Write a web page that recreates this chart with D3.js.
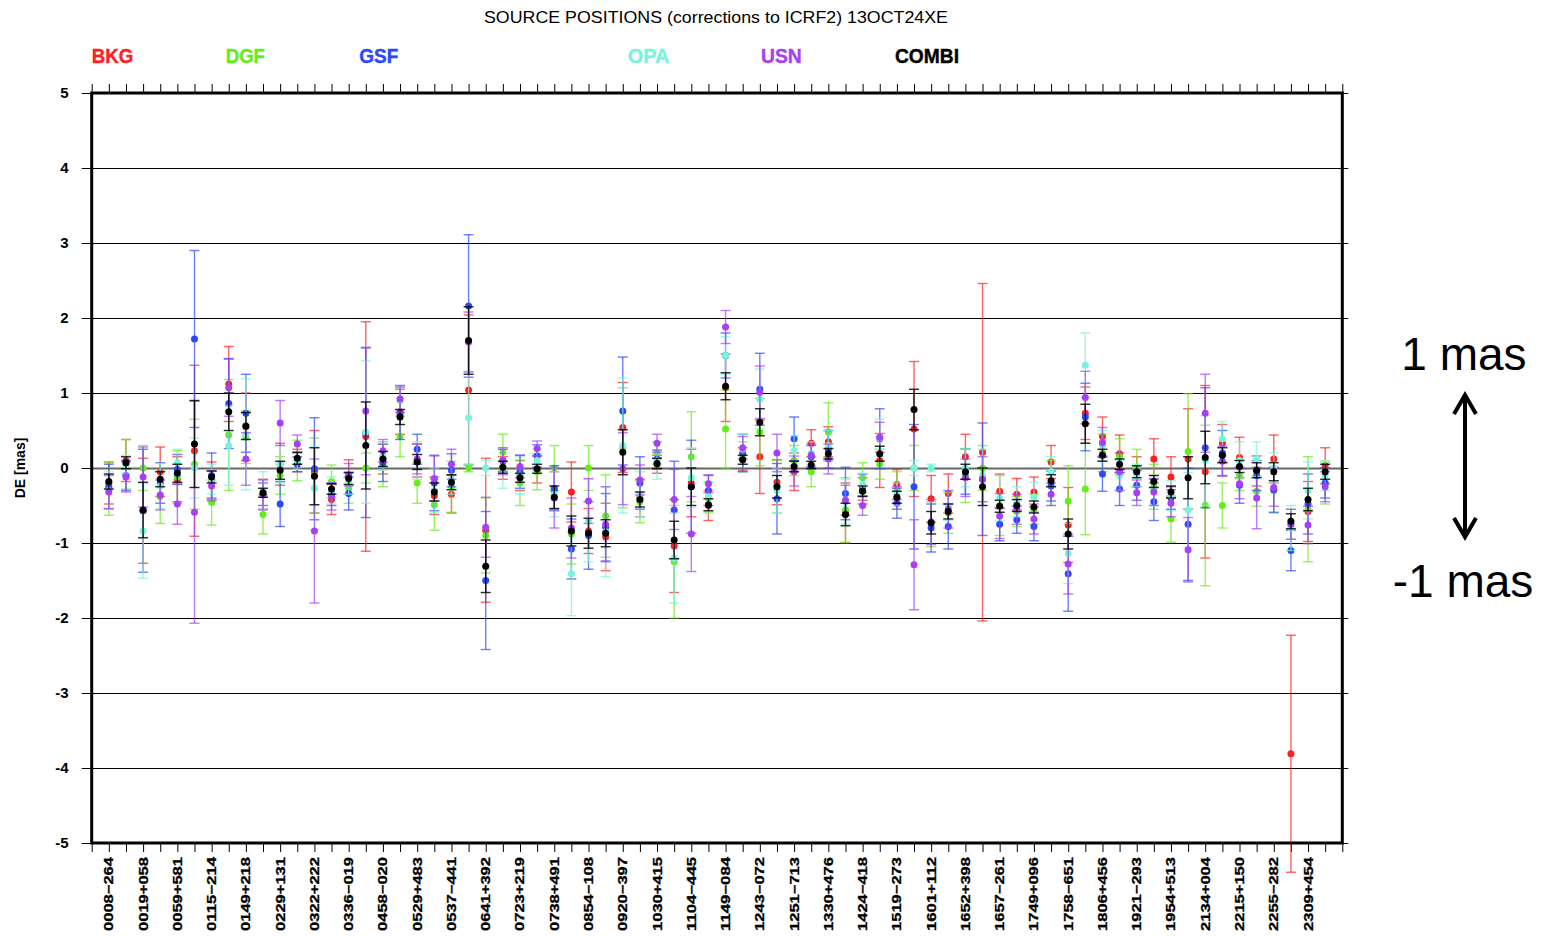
<!DOCTYPE html>
<html>
<head>
<meta charset="utf-8">
<script src="https://cdn.jsdelivr.net/npm/d3@7"></script>
<style>
  body { margin: 0; background: #fff; }
  svg { display: block; font-family: "Liberation Sans", Arial, sans-serif; }
</style>
</head>
<body>
<svg></svg>
<script>
// source names shown on the x axis (every other source is labelled)
const labels = ['0008−264', '0019+058', '0059+581', '0115−214', '0149+218', '0229+131', '0322+222', '0336−019',
  '0458−020', '0529+483', '0537−441', '0641+392', '0723+219', '0738+491', '0854−108', '0920−397', '1030+415',
  '1104−445', '1149−084', '1243−072', '1251−713', '1330+476', '1424−418', '1519−273', '1601+112', '1652+398',
  '1657−261', '1749+096', '1758−651', '1806+456', '1921−293', '1954+513', '2134+004', '2215+150', '2255−282', '2309+454'];

const centers = ['BKG', 'DGF', 'GSF', 'OPA', 'USN', 'COMBI'];
const colors = ['#ff1f1f', '#66ec1c', '#2b48ff', '#78f4dc', '#a640f2', '#000000'];

// DE corrections [mas] for the 72 sources, one array per analysis centre
const bkgVal = [-0.2, 0.1, -0.57, -0.05, -0.15, 0.23, -0.17, 1.12, 0.55, -0.35, 0.05, 0.1, -0.05, -0.42, -0.12, 0.42, 0.12, 0.75,
  0.1, -0.37, -0.35, 1.04, -0.83, 0.0, -0.1, -0.02, -0.3, -0.32, -0.84, -0.92, 0.54, -0.4, 0.05, -1.04, -0.2, -0.5,
  1.07, 0.12, 0.15, -0.19, -0.05, 0.33, 0.35, -0.6, -0.28, 0.1, -0.22, 0.52, -0.41, -0.34, 0.15, 0.21, -0.31, -0.35,
  -0.32, 0.08, -0.76, 0.73, 0.42, 0.19, -0.05, 0.12, -0.12, 0.12, -0.05, 0.33, 0.14, -0.04, 0.12, -3.81, -0.58, 0.03];
const bkgErr = [0.28, 0.28, 0.7, 0.33, 0.3, 1.14, 0.25, 0.5, 0.45, 0.2, 0.28, 0.15, 0.55, 0.2, 0.23, 1.53, 0.2, 0.3,
  0.22, 0.25, 0.25, 1.0, 0.96, 0.15, 0.2, 0.18, 0.25, 0.4, 0.3, 0.45, 0.6, 0.25, 0.12, 0.62, 0.45, 0.2,
  0.45, 0.15, 0.49, 0.3, 0.25, 0.18, 0.2, 0.4, 0.15, 0.36, 0.2, 0.9, 0.31, 0.26, 0.3, 2.25, 0.23, 0.21,
  0.2, 0.22, 0.5, 0.35, 0.26, 0.25, 0.2, 0.27, 0.27, 0.67, 1.15, 0.25, 0.27, 0.2, 0.32, 1.58, 0.4, 0.24];

const dgfVal = [-0.28, 0.05, 0.0, -0.38, -0.12, 0.05, -0.46, 0.44, 0.41, -0.62, -0.1, 0.1, -0.1, -0.18, -0.27, 0.0, 0.05, 0.42,
  -0.2, -0.49, -0.25, 0.0, -0.9, 0.21, -0.2, -0.05, 0.0, -0.88, 0.0, -0.64, 0.27, -0.45, 0.2, -1.25, 0.15, -0.4,
  0.52, 0.15, 0.48, -0.25, 0.1, -0.05, 0.48, -0.56, -0.13, 0.05, -0.3, 0.0, -0.75, -0.6, -0.1, 0.0, -0.5, -0.58,
  -0.55, -0.2, -0.44, -0.28, 0.2, 0.15, 0.0, -0.25, -0.68, 0.22, -0.5, -0.5, -0.1, -0.31, -0.3, -0.75, -0.55, -0.2];
const dgfErr = [0.35, 0.33, 0.3, 0.36, 0.35, 0.6, 0.3, 0.74, 0.35, 0.26, 0.25, 0.27, 0.5, 0.22, 0.2, 0.2, 0.3, 0.27,
  0.27, 0.34, 0.34, 0.05, 0.5, 0.24, 0.3, 0.24, 0.3, 0.4, 0.3, 0.55, 0.8, 0.28, 0.15, 0.75, 0.6, 0.2,
  0.52, 0.2, 0.45, 0.35, 0.2, 0.2, 0.39, 0.43, 0.2, 0.2, 0.25, 0.3, 0.3, 0.27, 0.36, 0.3, 0.4, 0.2,
  0.2, 0.3, 0.47, 0.61, 0.25, 0.24, 0.25, 0.3, 0.31, 0.77, 1.07, 0.3, 0.2, 0.2, 0.3, 0.2, 0.7, 0.28];

const gsfVal = [-0.25, -0.1, -0.57, -0.2, -0.02, 1.72, -0.1, 0.86, 0.73, -0.35, -0.48, 0.05, -0.01, -0.35, -0.34, 0.47, 0.07, 0.73,
  0.25, -0.2, -0.03, 2.16, -1.5, 0.1, -0.05, 0.16, -0.27, -1.08, -0.9, -0.79, 0.76, -0.2, 0.12, -0.56, -0.25, -0.3,
  1.5, 0.2, 1.05, -0.41, 0.39, 0.15, 0.25, -0.34, -0.28, 0.39, -0.47, -0.25, -0.8, -0.78, -0.05, -0.15, -0.75, -0.69,
  -0.78, -0.24, -1.41, 0.68, -0.08, -0.28, -0.23, -0.45, -0.4, -0.75, 0.27, 0.2, -0.23, -0.1, -0.29, -1.1, -0.48, -0.2];
const gsfErr = [0.3, 0.2, 0.82, 0.27, 0.2, 1.18, 0.3, 0.6, 0.52, 0.15, 0.3, 0.1, 0.68, 0.15, 0.22, 1.13, 0.25, 0.35,
  0.2, 0.37, 0.22, 0.95, 0.92, 0.15, 0.22, 0.15, 0.3, 0.4, 0.45, 0.45, 0.72, 0.35, 0.12, 0.65, 0.62, 0.2,
  0.3, 0.25, 0.48, 0.47, 0.29, 0.15, 0.25, 0.35, 0.2, 0.4, 0.2, 0.83, 0.32, 0.3, 0.3, 0.75, 0.22, 0.18,
  0.19, 0.2, 0.5, 0.45, 0.23, 0.22, 0.2, 0.25, 0.15, 0.75, 0.8, 0.3, 0.24, 0.2, 0.3, 0.27, 0.4, 0.2];

const opaVal = [-0.3, 0.05, -0.84, -0.24, 0.07, 0.0, -0.15, 0.3, 0.45, -0.3, 0.05, 0.1, -0.27, -0.3, -0.2, 0.48, 0.15, 0.9,
  0.1, -0.3, -0.15, 0.67, 0.0, 0.0, -0.1, 0.1, -0.35, -1.41, -0.7, -0.85, 0.3, -0.35, 0.1, -1.2, -0.13, -0.38,
  1.5, 0.25, 0.92, -0.3, 0.23, 0.2, 0.3, -0.45, -0.22, 0.4, -0.35, 0.0, 0.0, -0.5, 0.0, -0.1, -0.4, -0.45,
  -0.39, -0.05, -1.14, 1.37, 0.3, -0.1, -0.1, -0.3, -0.37, -0.56, 0.1, 0.39, 0.1, 0.12, 0.0, -0.8, -0.3, -0.1];
const opaErr = [0.25, 0.12, 0.63, 0.3, 0.18, 0.4, 0.2, 0.53, 0.74, 0.25, 0.25, 0.12, 0.55, 0.18, 0.15, 0.95, 0.18, 0.2,
  0.25, 0.3, 0.2, 0.62, 0.1, 0.27, 0.25, 0.15, 0.3, 0.56, 0.55, 0.6, 0.9, 0.3, 0.25, 0.6, 0.4, 0.2,
  0.25, 0.2, 0.4, 0.3, 0.2, 0.15, 0.2, 0.3, 0.15, 0.25, 0.15, 0.1, 0.05, 0.2, 0.25, 0.35, 0.3, 0.2,
  0.2, 0.2, 0.4, 0.43, 0.2, 0.2, 0.15, 0.2, 0.2, 0.5, 0.6, 0.23, 0.25, 0.23, 0.2, 0.3, 0.38, 0.2];

const usnVal = [-0.32, -0.12, -0.12, -0.36, -0.48, -0.59, -0.24, 1.07, 0.12, -0.36, 0.6, 0.32, -0.84, -0.38, -0.09, 0.76, 0.23, 0.92,
  0.12, -0.14, 0.05, 1.68, -0.79, 0.09, 0.02, 0.26, -0.4, -0.8, -0.44, -0.75, -0.01, -0.16, 0.33, -0.42, -0.88, -0.21,
  1.88, 0.27, 1.01, 0.2, -0.04, 0.17, 0.12, -0.43, -0.5, 0.41, -0.4, -1.29, -0.72, -0.55, -0.13, -0.15, -0.64, -0.55,
  -0.68, -0.35, -1.28, 0.94, 0.34, -0.05, -0.33, -0.32, -0.47, -1.09, 0.73, 0.09, -0.21, -0.4, -0.26, -0.75, -0.76, -0.25];
const usnErr = [0.22, 0.2, 0.4, 0.2, 0.27, 1.48, 0.2, 0.38, 0.35, 0.2, 0.3, 0.12, 0.96, 0.18, 0.15, 0.85, 0.15, 0.18,
  0.2, 0.3, 0.2, 0.4, 0.4, 0.18, 0.15, 0.1, 0.4, 0.4, 0.3, 0.5, 0.48, 0.2, 0.12, 0.4, 0.5, 0.12,
  0.22, 0.15, 0.35, 0.25, 0.2, 0.15, 0.2, 0.2, 0.13, 0.2, 0.15, 0.6, 0.3, 0.25, 0.25, 0.3, 0.3, 0.2,
  0.2, 0.15, 0.4, 0.35, 0.2, 0.25, 0.17, 0.18, 0.18, 0.43, 0.52, 0.2, 0.2, 0.41, 0.25, 0.2, 0.25, 0.2];

const combiVal = [-0.18, 0.07, -0.56, -0.15, -0.07, 0.32, -0.12, 0.75, 0.56, -0.33, -0.03, 0.13, -0.11, -0.28, -0.14, 0.3, 0.12, 0.68,
  0.08, -0.32, -0.19, 1.7, -1.31, 0.01, -0.13, -0.01, -0.39, -0.84, -0.87, -0.87, 0.21, -0.42, 0.06, -0.96, -0.25, -0.49,
  1.09, 0.11, 0.61, -0.25, 0.02, 0.04, 0.19, -0.62, -0.31, 0.19, -0.39, 0.78, -0.73, -0.58, -0.05, -0.25, -0.51, -0.5,
  -0.52, -0.17, -0.88, 0.59, 0.17, 0.05, -0.05, -0.18, -0.32, -0.13, 0.14, 0.17, 0.02, -0.03, -0.05, -0.71, -0.42, -0.05];
const combiErr = [0.1, 0.08, 0.37, 0.1, 0.12, 0.58, 0.08, 0.25, 0.18, 0.06, 0.12, 0.08, 0.38, 0.07, 0.08, 0.58, 0.1, 0.1,
  0.1, 0.12, 0.1, 0.45, 0.35, 0.08, 0.06, 0.06, 0.15, 0.2, 0.2, 0.18, 0.3, 0.1, 0.07, 0.25, 0.25, 0.08,
  0.18, 0.06, 0.18, 0.15, 0.07, 0.05, 0.07, 0.15, 0.07, 0.1, 0.08, 0.27, 0.15, 0.1, 0.1, 0.25, 0.08, 0.08,
  0.08, 0.08, 0.2, 0.26, 0.08, 0.07, 0.08, 0.08, 0.08, 0.28, 0.35, 0.1, 0.08, 0.1, 0.12, 0.1, 0.15, 0.1];

const yTicks = [-5, -4, -3, -2, -1, 0, 1, 2, 3, 4, 5];

const WIDTH = 1545;
const HEIGHT = 936;
const LEFT = 91.7;
const RIGHT = 1342.3;
const TOP = 93;
const BOTTOM = 843;
const N_SLOTS = 73;

const allVals = [bkgVal, dgfVal, gsfVal, opaVal, usnVal, combiVal];
const allErrs = [bkgErr, dgfErr, gsfErr, opaErr, usnErr, combiErr];

const series = centers.map((name, i) => ({
  name,
  color: colors[i],
  points: allVals[i].map((v, j) => ({ idx: j + 1, val: v, err: allErrs[i][j] }))
}));

const svg = d3.select('svg').
attr('width', WIDTH).
attr('height', HEIGHT);

const x = d3.scaleLinear().domain([0, N_SLOTS]).range([LEFT, RIGHT]);
const y = d3.scaleLinear().domain([-5, 5]).range([BOTTOM, TOP]);

/* --TITLE + LEGEND-- */

svg.append('text').
attr('x', 716).
attr('y', 23).
attr('text-anchor', 'middle').
attr('font-size', 17).
attr('textLength', 464).
attr('lengthAdjust', 'spacingAndGlyphs').
text('SOURCE POSITIONS (corrections to ICRF2) 13OCT24XE');

const legendX = [91.7, 225.7, 359.3, 627.7, 761, 895];
const legendW = [41.6, 39.3, 39, 41.7, 40.7, 64];
svg.append('g').selectAll('text').
data(series).
enter().
append('text').
attr('x', (d, i) => legendX[i]).
attr('y', 63).
attr('font-size', 20).
attr('font-weight', 'bold').
attr('fill', d => d.color).
attr('stroke', d => d.color).
attr('stroke-width', 0.4).
attr('textLength', (d, i) => legendW[i]).
attr('lengthAdjust', 'spacingAndGlyphs').
text(d => d.name);

/* --GRID-- */

svg.append('g').selectAll('line').
data(yTicks.filter(d => d > -5 && d < 5)).
enter().
append('line').
attr('x1', LEFT).
attr('x2', RIGHT).
attr('y1', d => Math.round(y(d)) + 0.5).
attr('y2', d => Math.round(y(d)) + 0.5).
attr('stroke', d => d === 0 ? '#666' : '#000').
attr('stroke-width', d => d === 0 ? 2 : 1);

/* --AXES-- */

const slotTicks = d3.range(0, N_SLOTS + 1);

const topAxis = svg.append('g').
attr('transform', `translate(0, ${TOP})`).
call(d3.axisTop(x).tickValues(slotTicks).tickSize(9).tickFormat(''));

const bottomAxis = svg.append('g').
attr('transform', `translate(0, ${BOTTOM})`).
call(d3.axisBottom(x).tickValues(slotTicks).tickSize(9).tickFormat(''));

const leftAxis = svg.append('g').
attr('transform', `translate(${LEFT}, 0)`).
call(d3.axisLeft(y).tickValues(yTicks).tickSize(10).tickPadding(13).tickFormat(d => String(d)));

const rightAxis = svg.append('g').
attr('transform', `translate(${RIGHT}, 0)`).
call(d3.axisRight(y).tickValues(yTicks).tickSize(6).tickFormat(''));

[topAxis, bottomAxis, leftAxis, rightAxis].forEach(g => {
  g.select('.domain').remove();
  g.selectAll('.tick line').attr('stroke', '#000').attr('stroke-width', 1);
});

leftAxis.selectAll('text').
style('font-size', '15px').
style('font-weight', 'bold').
style('font-family', '"Liberation Sans", Arial, sans-serif').
attr('fill', '#000');

svg.append('text').
attr('transform', `translate(25, 468) rotate(-90)`).
attr('text-anchor', 'middle').
attr('font-size', 14).
attr('font-weight', 'bold').
text('DE [mas]');

// source labels under every other slot
svg.append('g').selectAll('text').
data(labels).
enter().
append('text').
attr('transform', (d, i) => `translate(${x(2 * i + 1) + 4.5}, 857) rotate(-90)`).
attr('text-anchor', 'end').
attr('font-size', 12.5).
attr('font-weight', 'bold').
attr('stroke', '#000').
attr('stroke-width', 0.3).
attr('textLength', 74).
attr('lengthAdjust', 'spacingAndGlyphs').
text(d => d);

/* --DATA RENDERING-- */

const CAP = 5;

series.forEach(s => {
  const g = svg.append('g').attr('class', 'center-' + s.name);
  const bars = g.append('g').
  attr('stroke', s.color).
  attr('stroke-width', 1.4).
  attr('stroke-opacity', s.name === 'COMBI' ? 0.85 : 0.7);

  bars.selectAll('.bar').
  data(s.points).
  enter().
  append('line').
  attr('class', 'bar').
  attr('x1', d => x(d.idx)).
  attr('x2', d => x(d.idx)).
  attr('y1', d => y(d.val + d.err)).
  attr('y2', d => y(d.val - d.err));

  ['hi', 'lo'].forEach(k => {
    bars.selectAll('.cap-' + k).
    data(s.points).
    enter().
    append('line').
    attr('class', 'cap-' + k).
    attr('x1', d => x(d.idx) - CAP).
    attr('x2', d => x(d.idx) + CAP).
    attr('y1', d => y(k === 'hi' ? d.val + d.err : d.val - d.err)).
    attr('y2', d => y(k === 'hi' ? d.val + d.err : d.val - d.err));
  });

  g.selectAll('circle').
  data(s.points).
  enter().
  append('circle').
  attr('cx', d => x(d.idx)).
  attr('cy', d => y(d.val)).
  attr('r', 3.5).
  attr('fill', s.color);
});

/* --FRAME-- */

svg.append('rect').
attr('x', LEFT).
attr('y', TOP).
attr('width', RIGHT - LEFT).
attr('height', BOTTOM - TOP).
attr('fill', 'none').
attr('stroke', '#000').
attr('stroke-width', 3);

/* --SCALE ANNOTATION-- */

const ann = svg.append('g');
ann.append('text').
attr('x', 1464).
attr('y', 370).
attr('text-anchor', 'middle').
attr('font-size', 46).
text('1 mas');
ann.append('text').
attr('x', 1463).
attr('y', 597).
attr('text-anchor', 'middle').
attr('font-size', 46).
text('-1 mas');
ann.append('line').
attr('x1', 1465).attr('x2', 1465).
attr('y1', 396).attr('y2', 536).
attr('stroke', '#000').attr('stroke-width', 4);
ann.append('path').
attr('d', 'M1454,414 L1465,395 L1476,414 M1454,518 L1465,537 L1476,518').
attr('fill', 'none').
attr('stroke', '#000').
attr('stroke-width', 4).
attr('stroke-linejoin', 'miter');
</script>
</body>
</html>
